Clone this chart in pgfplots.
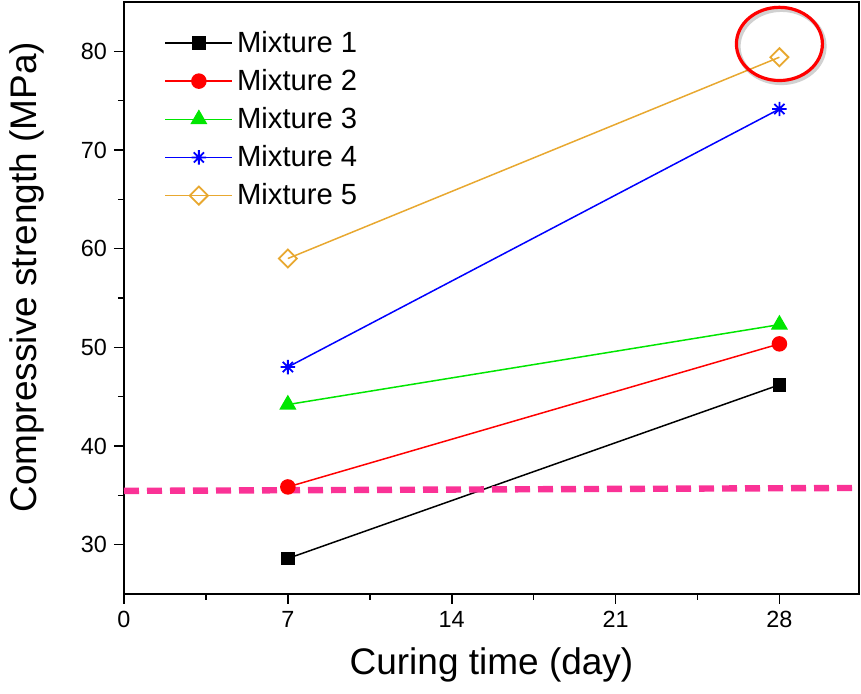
\documentclass[border=0pt]{standalone}
\usepackage{fontspec}
\setmainfont{Liberation Sans}
\usepackage{pgfplots}
\pgfplotsset{compat=1.18}

\definecolor{mixgold}{RGB}{232,168,48}
\definecolor{mixgreen}{RGB}{0,230,0}
\definecolor{limitpink}{RGB}{250,50,150}

% eight-armed asterisk like Origin's star symbol
\pgfdeclareplotmark{star8}{%
  \pgfpathmoveto{\pgfqpoint{0pt}{\pgfplotmarksize}}\pgfpathlineto{\pgfqpoint{0pt}{-\pgfplotmarksize}}%
  \pgfpathmoveto{\pgfqpoint{\pgfplotmarksize}{0pt}}\pgfpathlineto{\pgfqpoint{-\pgfplotmarksize}{0pt}}%
  \pgfpathmoveto{\pgfqpoint{0.707\pgfplotmarksize}{0.707\pgfplotmarksize}}\pgfpathlineto{\pgfqpoint{-0.707\pgfplotmarksize}{-0.707\pgfplotmarksize}}%
  \pgfpathmoveto{\pgfqpoint{0.707\pgfplotmarksize}{-0.707\pgfplotmarksize}}\pgfpathlineto{\pgfqpoint{-0.707\pgfplotmarksize}{0.707\pgfplotmarksize}}%
  \pgfusepathqstroke}

\begin{document}
\begin{tikzpicture}
\begin{axis}[
    scale only axis,
    width=367.5pt, height=296pt,
    xmin=0, xmax=31.4,
    ymin=25, ymax=85,
    xtick={0,7,14,21,28},
    minor x tick num=1,
    ytick={30,40,50,60,70,80},
    minor y tick num=1,
    xtick pos=bottom, ytick pos=left,
    tick align=outside,
    major tick length=5pt, minor tick length=3pt,
    axis line style={line width=1pt},
    every tick/.style={black, line width=0.8pt},
    tick label style={font=\fontsize{11.7}{14}\selectfont},
    /pgf/number format/assume math mode=true,
    xlabel={Curing time (day)},
    ylabel={Compressive strength (MPa)},
    every axis x label/.style={at={(axis description cs:0.5,-0.12)}, anchor=center,
        font=\fontsize{18.5}{22}\selectfont},
    every axis y label/.style={at={(axis description cs:-0.132,0.535)}, rotate=90, anchor=center,
        font=\fontsize{18.5}{22}\selectfont},
    legend style={at={(axis description cs:0.052,0.962)}, anchor=north west,
        draw=none, fill=none, font=\fontsize{14.6}{17}\selectfont,
        row sep=3pt, inner sep=1pt},
    legend cell align=left,
    legend image code/.code={%
        \draw[mark repeat=2, mark phase=2] plot coordinates {(0pt,0pt) (16.75pt,0pt) (33.5pt,0pt)};},
]
\addplot[black, line width=0.75pt, mark=square*, mark size=3pt] coordinates {(7,28.6) (28,46.2)};
\addlegendentry{Mixture 1}
\addplot[red, line width=0.75pt, mark=*, mark size=3.5pt] coordinates {(7,35.85) (28,50.35)};
\addlegendentry{Mixture 2}
\addplot[mixgreen, line width=0.75pt, mark=triangle*, mark size=4.2pt] coordinates {(7,44.2) (28,52.3)};
\addlegendentry{Mixture 3}
\addplot[blue, line width=0.75pt, mark=star8, mark size=3.6pt, mark options={line width=0.9pt}] coordinates {(7,48.0) (28,74.15)};
\addlegendentry{Mixture 4}
\addplot[mixgold, line width=0.75pt, mark=square, mark size=3.2pt, mark options={rotate=45, fill=white, line width=0.9pt}] coordinates {(7,59.0) (28,79.4)};
\addlegendentry{Mixture 5}
% target-strength reference line
\addplot[limitpink, line width=3.2pt, dash pattern=on 7.5pt off 4pt, forget plot] coordinates {(0,35.45) (31.4,35.75)};
% highlight around the 28-day value of Mixture 5
\draw[black, opacity=0.18, line width=2.2pt]
    ([xshift=1pt, yshift=-1.2pt]axis cs:28.0,80.75) ellipse [x radius=21.5pt, y radius=18.3pt];
\draw[red, line width=1.6pt]
    (axis cs:28.0,80.75) ellipse [x radius=21.5pt, y radius=18.3pt];
\end{axis}
\pgfresetboundingbox
\useasboundingbox (-62pt,-50pt) rectangle (368.5pt,297pt);
\end{tikzpicture}
\end{document}
